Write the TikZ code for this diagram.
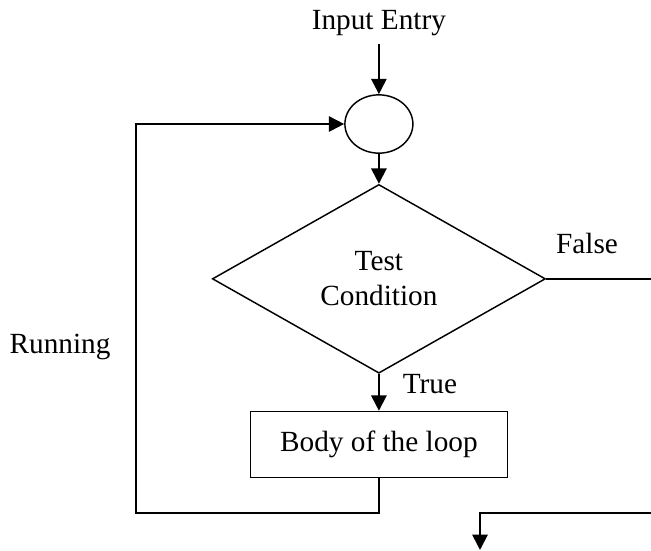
\documentclass[tikz,border=0pt]{standalone}
\usepackage{fontspec}
\setmainfont{Liberation Serif}
\usetikzlibrary{arrows.meta,positioning,shapes.geometric}

\begin{document}
\begin{tikzpicture}[
    node distance=0.5cm,
    every node/.style={font=\fontsize{12}{14.4}\selectfont},
    join_point/.style={draw, ellipse, semithick, minimum width=0.98cm, minimum height=0.84cm, inner sep=0pt},
    decision/.style={draw, diamond, semithick, minimum width=4.8cm, minimum height=2.72cm, align=center, inner sep=0pt},
    box/.style={draw, rectangle, semithick, minimum width=3.7cm, minimum height=0.95cm, align=center},
    arrow/.style={-{Triangle[length=2.2mm,width=2.2mm]}, thick},
    line/.style={thick}
]
    \useasboundingbox (0,0) rectangle (9.381,-7.94);

    % Entry and join
    \node[join_point] (join) at (5.46,-1.787) {};
    \node[above=0.72cm of join] (entry) {Input Entry};

    % Test and body
    \node[decision, below=0.43cm of join] (test) {Test\\Condition};
    \node[box, below=0.53cm of test] (body) {Body of the loop};

    % Free ends
    \coordinate (loop_bottom) at (1.96,-7.392);
    \coordinate (false_out) at (9.381,-4.0);
    \coordinate (false_back) at (9.381,-7.392);
    \coordinate (exit) at (6.917,-7.925);

    % Connections
    \draw[arrow] (entry) -- (join);
    \draw[arrow] (join) -- (test);
    \draw[arrow] (test) -- (body);
    \draw[arrow] (body.south) |- (loop_bottom) |- (join.west);
    \draw[line] (test.east) -- (test.east -| false_out);
    \draw[arrow] (false_back) -| (exit);

    % Labels
    \node at (8.459,-3.502) (false_label) {False};
    \node at (6.196,-5.533) (true_label) {True};
    \node at (0.865,-5.0) (running_label) {Running};

\end{tikzpicture}
\end{document}
